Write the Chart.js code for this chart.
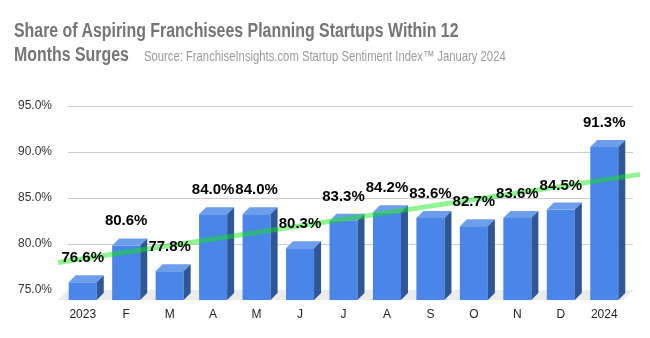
<!DOCTYPE html>
<html>
<head>
<meta charset="utf-8">
<script src="https://cdn.jsdelivr.net/npm/chart.js@4.4.1/dist/chart.umd.min.js"></script>
<style>
  html, body { margin: 0; padding: 0; background: #fff; }
  #wrap { position: relative; width: 650px; height: 338px; }
  #title {
    position: absolute; left: 14px; top: 18px;
    font: bold 20px "Liberation Sans", Arial, sans-serif;
    color: #757575; line-height: 24px; white-space: nowrap;
    transform: scaleX(0.795); transform-origin: left top;
  }
  #title .src {
    font: 14.2px "Liberation Sans", Arial, sans-serif;
    color: #9a9a9a; margin-left: 19px;
  }
</style>
</head>
<body>
<div id="wrap">
  <canvas id="chart" width="650" height="338"></canvas>
  <div id="title">Share of Aspiring Franchisees Planning Startups Within 12<br>Months Surges<span class="src">Source: FranchiseInsights.com Startup Sentiment Index™ January 2024</span></div>
</div>
<script>
const months = ['2023', 'F', 'M', 'A', 'M', 'J', 'J', 'A', 'S', 'O', 'N', 'D', '2024'];
const shares = [76.6, 80.6, 77.8, 84.0, 84.0, 80.3, 83.3, 84.2, 83.6, 82.7, 83.6, 84.5, 91.3];
const yTicks = [75, 80, 85, 90, 95];

const DEPTH = 7;      // bar depth offset
const FLOOR = 10;     // floor depth offset

// least squares trend over the monthly shares
function trend(vals) {
    const n = vals.length;
    const mx = (n - 1) / 2;
    const my = vals.reduce((a, b) => a + b, 0) / n;
    let sxy = 0, sxx = 0;
    vals.forEach((v, i) => { sxy += (i - mx) * (v - my); sxx += (i - mx) * (i - mx); });
    const slope = sxy / sxx;
    return { slope, icpt: my - slope * mx };
}

const threeD = {
    id: 'threeD',
    beforeDatasetsDraw(chart) {
        const { ctx, chartArea: a } = chart;
        // grey floor under the bars
        ctx.save();
        ctx.fillStyle = '#ececec';
        ctx.beginPath();
        ctx.moveTo(a.left, a.bottom);
        ctx.lineTo(a.right, a.bottom);
        ctx.lineTo(a.right - FLOOR, a.bottom + FLOOR);
        ctx.lineTo(a.left - FLOOR, a.bottom + FLOOR);
        ctx.closePath();
        ctx.fill();
        ctx.restore();
    },
    afterDatasetsDraw(chart) {
        const { ctx, chartArea: a, scales } = chart;
        const meta = chart.getDatasetMeta(0);
        const floorY = a.bottom + FLOOR;
        ctx.save();
        meta.data.forEach(bar => {
            const w = bar.width;
            const fl = bar.x - w / 2 - DEPTH;
            const fr = fl + w;
            const ft = bar.y + DEPTH;
            // front
            ctx.fillStyle = '#4a86e8';
            ctx.fillRect(fl, ft, w, floorY - ft);
            // top
            ctx.fillStyle = '#6d9eeb';
            ctx.beginPath();
            ctx.moveTo(fl, ft);
            ctx.lineTo(fl + DEPTH, bar.y);
            ctx.lineTo(fr + DEPTH, bar.y);
            ctx.lineTo(fr, ft);
            ctx.closePath();
            ctx.fill();
            // side
            ctx.fillStyle = '#2f5798';
            ctx.beginPath();
            ctx.moveTo(fr, ft);
            ctx.lineTo(fr + DEPTH, bar.y);
            ctx.lineTo(fr + DEPTH, floorY - DEPTH);
            ctx.lineTo(fr, floorY);
            ctx.closePath();
            ctx.fill();
        });

        // trend line across the whole plot
        const t = trend(shares);
        const x0 = scales.x.getPixelForValue(0);
        const dx = scales.x.getPixelForValue(1) - x0;
        const yAt = px => scales.y.getPixelForValue(t.icpt + t.slope * (px - x0) / dx);
        const xs = a.left - FLOOR, xe = a.right + 7;
        ctx.strokeStyle = 'rgba(20, 232, 20, 0.47)';
        ctx.lineWidth = 5;
        ctx.beginPath();
        ctx.moveTo(xs, yAt(xs));
        ctx.lineTo(xe, yAt(xe));
        ctx.stroke();

        // value labels
        ctx.fillStyle = '#000';
        ctx.font = 'bold 15px "Liberation Sans", Arial, sans-serif';
        ctx.textAlign = 'center';
        ctx.textBaseline = 'alphabetic';
        meta.data.forEach((bar, i) => {
            ctx.fillText(shares[i].toFixed(1) + '%', bar.x - DEPTH, bar.y - 13);
        });
        ctx.restore();
    }
};

new Chart(document.getElementById('chart'), {
    type: 'bar',
    data: {
        labels: months,
        datasets: [{
            data: shares,
            backgroundColor: 'rgba(0,0,0,0)',
            borderWidth: 0,
            categoryPercentage: 1,
            barPercentage: 0.645
        }]
    },
    options: {
        responsive: false,
        animation: false,
        layout: { padding: { top: 106, right: 17, left: 0, bottom: 0 } },
        plugins: {
            legend: { display: false },
            tooltip: { enabled: false }
        },
        scales: {
            x: {
                grid: { display: false, drawTicks: false },
                border: { display: false },
                ticks: {
                    color: '#222',
                    font: { family: '"Liberation Sans", Arial, sans-serif', size: 12 },
                    padding: 17,
                    labelOffset: -DEPTH,
                    maxRotation: 0,
                    autoSkip: false
                },
                afterFit: s => { s.height = 48; }
            },
            y: {
                min: 75,
                max: 95,
                afterBuildTicks: s => { s.ticks = yTicks.map(v => ({ value: v })); },
                grid: { color: '#cccccc', drawTicks: false },
                border: { display: false },
                ticks: {
                    color: '#333',
                    font: { family: '"Liberation Sans", Arial, sans-serif', size: 12 },
                    padding: 16,
                    callback: v => v.toFixed(1) + '%'
                },
                afterFit: s => { s.width = 68; }
            }
        }
    },
    plugins: [threeD]
});
</script>
</body>
</html>
